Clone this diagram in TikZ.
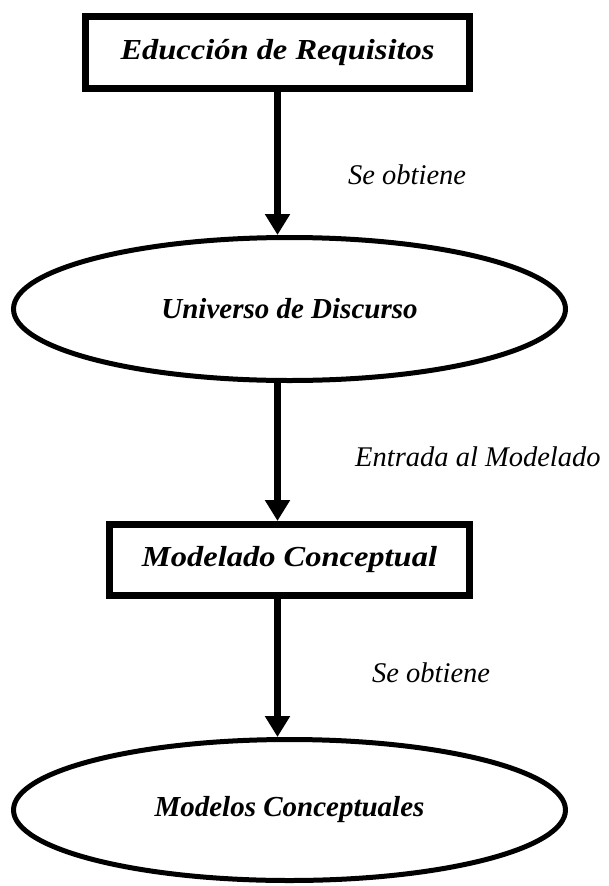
\documentclass[tikz,border=0pt]{standalone}
\usepackage{fontspec}
\setmainfont{Liberation Serif}
\usetikzlibrary{shapes.geometric,arrows.meta}
\newcommand{\wideboxtext}[1]{\scalebox{1.12}[1]{#1}}
\begin{document}
\begin{tikzpicture}[x=1pt,y=-1pt,
  boxnode/.style={draw,line width=7pt,rectangle,inner sep=0pt,fill=white,
    font=\fontsize{29}{31}\selectfont\bfseries\itshape},
  ellnode/.style={draw,line width=5pt,ellipse,inner sep=0pt,fill=white,
    font=\fontsize{29}{31}\selectfont\bfseries\itshape},
  lbl/.style={anchor=base west,inner sep=0pt,font=\fontsize{28.5}{30}\selectfont\itshape},
  arr/.style={line width=7pt,-{Triangle[width=24pt,length=21pt]}}]
\useasboundingbox (0,0) rectangle (609,886);
\node[boxnode,minimum width=384pt,minimum height=72pt] (b1) at (277.5,52.5) {\wideboxtext{Educción de Requisitos}};
\node[ellnode,minimum width=552pt,minimum height=143pt] (e1) at (289.5,309) {Universo de Discurso};
\node[boxnode,minimum width=360pt,minimum height=71pt] (b2) at (289.5,560) {\wideboxtext{Modelado Conceptual}};
\node[ellnode,minimum width=552pt,minimum height=141pt] (e2) at (289.5,810) {Modelos Conceptuales};
\draw[arr] (b1.south) -- (b1.south |- e1.north);
\draw[arr] (e1.south -| b1.south) -- (b2.north -| b1.south);
\draw[arr] (b2.south -| b1.south) -- (e2.north -| b1.south);
\node[lbl] (l1) at (348,184) {Se obtiene};
\node[lbl] (l2) at (355,466) {Entrada al Modelado};
\node[lbl] (l3) at (372,682) {Se obtiene};
\end{tikzpicture}
\end{document}
